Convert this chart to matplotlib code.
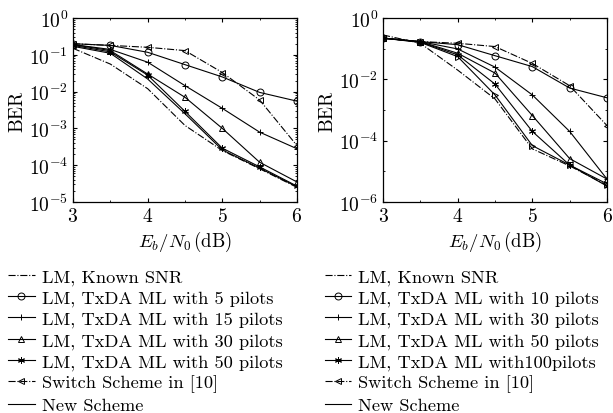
import matplotlib
matplotlib.use("Agg")
import matplotlib.pyplot as plt
from matplotlib.lines import Line2D
from matplotlib.ticker import LogLocator, NullFormatter, MultipleLocator

plt.rcParams["font.family"] = ["cmr10", "DejaVu Serif"]
plt.rcParams["mathtext.fontset"] = "cm"
plt.rcParams["axes.formatter.use_mathtext"] = True

snr = [3, 3.5, 4, 4.5, 5, 5.5, 6]

# left panel
known_l = [0.15, 0.056, 0.012, 1.2e-3, 2.5e-4, 8.0e-5, 2.5e-5]
p5 = [0.2, 0.18, 0.117, 0.054, 0.025, 9.5e-3, 5.5e-3]
p15 = [0.19, 0.14, 0.063, 0.0145, 3.5e-3, 7.9e-4, 2.8e-4]
p30 = [0.19, 0.13, 0.030, 7.0e-3, 1.0e-3, 1.2e-4, 3.5e-5]
p50 = [0.18, 0.12, 0.028, 2.9e-3, 2.9e-4, 9.0e-5, 2.7e-5]
switch_l = [0.2, 0.18, 0.16, 0.13, 0.033, 5.9e-3, 3.4e-4]
new_l = [0.17, 0.11, 0.022, 2.5e-3, 2.6e-4, 8.3e-5, 2.6e-5]

# right panel
known_r = [0.28, 0.15, 0.02, 2.3e-3, 5.4e-5, 1.5e-5, 3.5e-6]
p10 = [0.22, 0.17, 0.135, 0.059, 0.026, 5.2e-3, 2.5e-3]
p30r = [0.22, 0.17, 0.098, 0.025, 3.1e-3, 2.0e-4, 5.6e-6]
p50r = [0.22, 0.17, 0.071, 0.016, 6.6e-4, 2.6e-5, 5.6e-6]
p100 = [0.22, 0.165, 0.063, 7.0e-3, 2.0e-4, 1.6e-5, 3.3e-6]
switch_r = [0.22, 0.17, 0.15, 0.117, 0.033, 6.2e-3, 3.1e-4]
new_r = [0.22, 0.16, 0.055, 3.1e-3, 6.9e-5, 1.6e-5, 3.9e-6]

labels_l = ["LM, Known SNR", "LM, TxDA ML with 5 pilots", "LM, TxDA ML with 15 pilots",
            "LM, TxDA ML with 30 pilots", "LM, TxDA ML with 50 pilots",
            "Switch Scheme in [10]", "New Scheme"]
labels_r = ["LM, Known SNR", "LM, TxDA ML with 10 pilots", "LM, TxDA ML with 30 pilots",
            "LM, TxDA ML with 50 pilots", "LM, TxDA ML with100pilots",
            "Switch Scheme in [10]", "New Scheme"]

LW = 0.8
MS = 5
star = (6, 2, 0)
styles = [
    dict(ls="-.", marker=None),
    dict(ls="-", marker="o"),
    dict(ls="-", marker="+"),
    dict(ls="-", marker="^"),
    dict(ls="-", marker=star),
    dict(ls="-.", marker="<"),
    dict(ls="-", marker=None),
]

fig = plt.figure(figsize=(6.13, 4.14), dpi=100)
ax1 = fig.add_axes([73 / 613, 1 - 203 / 414, 224 / 613, 184 / 414])
ax2 = fig.add_axes([383 / 613, 1 - 203 / 414, 224 / 613, 184 / 414])


def draw(ax, series, new_marker):
    for y, st in zip(series, styles):
        ax.plot(snr, y, color="k", lw=LW, ls=st["ls"], marker=st["marker"],
                ms=MS, mfc="none", mec="k", mew=0.7)
    if new_marker:
        ax.plot(snr, series[-1], color="k", lw=0, marker=">", ms=MS,
                mfc="none", mec="k", mew=0.7)


draw(ax1, [known_l, p5, p15, p30, p50, switch_l, new_l], False)
draw(ax2, [known_r, p10, p30r, p50r, p100, switch_r, new_r], True)

for ax, lo in ((ax1, 1e-5), (ax2, 1e-6)):
    ax.set_yscale("log")
    ax.set_xlim(3, 6)
    ax.set_ylim(lo, 1)
    ax.set_xticks([3, 4, 5, 6])
    ax.xaxis.set_minor_locator(MultipleLocator(0.5))
    ax.yaxis.set_minor_locator(LogLocator(base=10, subs=range(2, 10), numticks=20))
    ax.yaxis.set_minor_formatter(NullFormatter())
    ax.tick_params(which="both", direction="in", top=True, right=True, labelsize=14)
    ax.tick_params(which="major", length=3)
    ax.tick_params(which="minor", length=1.5)
    ax.set_xlabel(r"$E_b/N_0\,$(dB)", fontsize=13.5, labelpad=3)
    ax.set_ylabel("BER", fontsize=14, labelpad=2)
    for s in ax.spines.values():
        s.set_linewidth(0.9)

ax1.yaxis.set_major_locator(LogLocator(base=10, numticks=10))
ax2.set_yticks([1, 1e-2, 1e-4, 1e-6])
ax2.set_yticks([1e-1, 1e-3, 1e-5], minor=True)
ax2.yaxis.set_minor_formatter(NullFormatter())

for lbls, x0 in ((labels_l, 0.004), (labels_r, 0.521)):
    handles = [Line2D([], [], color="k", lw=LW, ls=st["ls"], marker=st["marker"],
                      ms=MS, mfc="none", mec="k", mew=0.7) for st in styles]
    fig.legend(handles, lbls, loc="upper left", bbox_to_anchor=(x0, 1 - 264 / 414),
               frameon=False, fontsize=13.2, handlelength=1.45, handletextpad=0.38,
               labelspacing=0.27, borderaxespad=0, borderpad=0.3)

fig.savefig("out.png", dpi=100)
